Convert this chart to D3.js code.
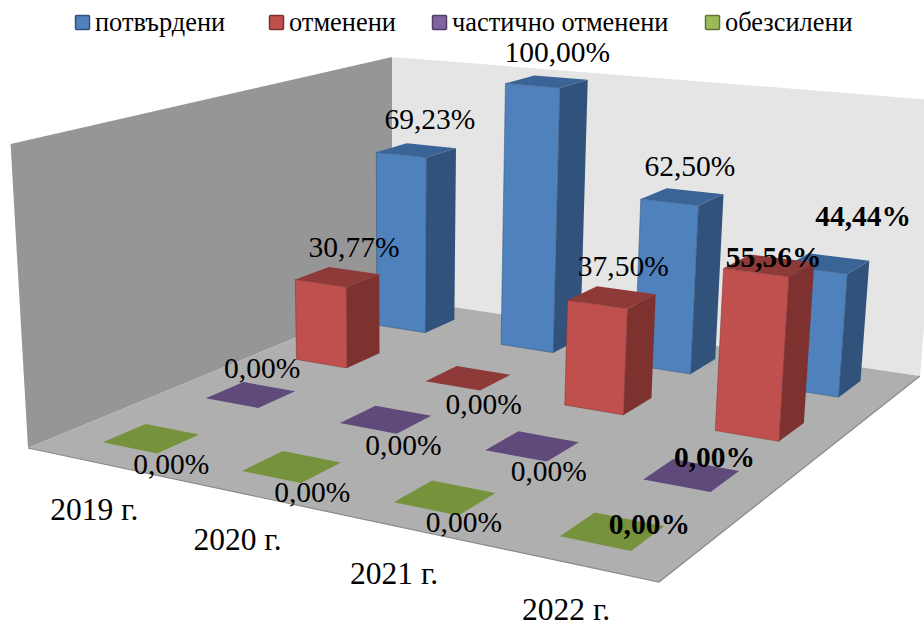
<!DOCTYPE html>
<html>
<head>
<meta charset="utf-8">
<script src="https://cdn.jsdelivr.net/npm/d3@7"></script>
<style>
  body { margin: 0; background: #fff; }
  text { font-family: "Liberation Serif", serif; fill: #000; }
</style>
</head>
<body>
<svg id="chart" width="924" height="621"></svg>
<script>
// Values
const categories = ["2019 г.", "2020 г.", "2021 г.", "2022 г."];
const seriesNames = ["потвърдени", "отменени", "частично отменени", "обезсилени"];
const confirmed = [69.23, 100, 62.5, 44.44];
const cancelled = [30.77, 0, 37.5, 55.56];
const partlyCancelled = [0, 0, 0, 0];
const annulled = [0, 0, 0, 0];
const seriesValues = [confirmed, cancelled, partlyCancelled, annulled];

// Face colours per series
const frontColors = ["#4f81bd", "#c0504d", "#8064a2", "#9bbb59"];
const sideColors = ["#31527a", "#7d3230", "#4f3e66", "#617538"];
const topColors = ["#3a6496", "#8e3a38", "#604a7b", "#76923c"];

// Hand placed data labels, offset from the centre of each bar top
const labelOffsets = [
  [[13.5, -31], [10.5, -29], [7.5, -30], [35.5, -47]],
  [[16.5, -30], [15.5, 26], [11.5, -31], [4.5, -8]],
  [[11.5, -26], [17.5, 26], [16.5, 25], [23, -18]],
  [[20, 26], [20.5, 26], [19, 25], [37, -7]]
];
const legendX = [75, 269, 432, 705];

// Corners of the floor and the top of the back edge, in screen pixels
const floorLeft = [28, 448], floorFront = [659, 582], floorRight = [920, 376], floorBack = [392, 298];
const backTopY = 57;
const verticalVanish = [392, 6800];

// Square to quad homography for the floor
function floorMatrix(p0, p1, p2, p3) {
  const dx1 = p1[0] - p2[0], dx2 = p3[0] - p2[0], sx = p0[0] - p1[0] + p2[0] - p3[0];
  const dy1 = p1[1] - p2[1], dy2 = p3[1] - p2[1], sy = p0[1] - p1[1] + p2[1] - p3[1];
  const det = dx1 * dy2 - dx2 * dy1;
  const g = (sx * dy2 - dx2 * sy) / det;
  const h = (dx1 * sy - sx * dy1) / det;
  return {
    a: p1[0] - p0[0] + g * p1[0], b: p3[0] - p0[0] + h * p3[0], c: p0[0],
    d: p1[1] - p0[1] + g * p1[1], e: p3[1] - p0[1] + h * p3[1], f: p0[1],
    g, h
  };
}

const m = floorMatrix(floorLeft, floorFront, floorRight, floorBack);
const k = (backTopY * (m.h + 1) - (m.e + m.f)) / (verticalVanish[1] - backTopY);

// u runs along the categories, v into the depth, t up the value axis
function project(u, v, t) {
  const w = m.g * u + m.h * v + 1 + t * k;
  return [
    (m.a * u + m.b * v + m.c + t * k * verticalVanish[0]) / w,
    (m.d * u + m.e * v + m.f + t * k * verticalVanish[1]) / w
  ];
}

const uScale = d3.scaleBand().domain(categories).range([0.002, 1.002]).paddingInner(0.6).paddingOuter(0.3);
const vScale = d3.scaleBand().domain(seriesNames).range([1, 0]).paddingInner(0.6).paddingOuter(0.3);
const tScale = d3.scaleLinear().domain([0, 100]).range([0, 1]);

const svg = d3.select("#chart");
const line = d3.line();
const closed = pts => line(pts) + "Z";

// Walls and floor
svg.append("path")
    .attr("d", closed([[0, 0, 0], [0, 1, 0], [0, 1, 1], [0, 0, 1]].map(p => project(...p))))
    .attr("fill", "#969696");
svg.append("path")
    .attr("d", closed([[0, 1, 0], [1, 1, 0], [1, 1, 1], [0, 1, 1]].map(p => project(...p))))
    .attr("fill", "#e5e5e5");
svg.append("path")
    .attr("d", closed([[0, 0, 0], [1, 0, 0], [1, 1, 0], [0, 1, 0]].map(p => project(...p))))
    .attr("fill", "#afafaf");
svg.append("path")
    .attr("d", line([[0, 0, 0], [1, 0, 0], [1, 1, 0]].map(p => project(...p))))
    .attr("fill", "none")
    .attr("stroke", "#8a8a8a")
    .attr("stroke-width", 1.2);

// One record per bar, back series first so nearer bars paint over
const bars = [];
seriesNames.forEach((name, s) => {
  categories.forEach((cat, c) => {
    bars.push({ s, c, cat, name, value: seriesValues[s][c] });
  });
});

const barG = svg.selectAll("g.bar")
    .data(bars)
  .join("g")
    .attr("class", "bar");

function corners(d) {
  const u0 = uScale(d.cat), u1 = u0 + uScale.bandwidth();
  const v1 = vScale(d.name), v0 = v1 + vScale.bandwidth();
  return { u0, u1, v0: Math.min(v0, v1), v1: Math.max(v0, v1), t: tScale(d.value) };
}

barG.filter(d => d.value > 0).append("path")
    .attr("d", d => {
      const q = corners(d);
      return closed([[q.u0, q.v0, 0], [q.u1, q.v0, 0], [q.u1, q.v0, q.t], [q.u0, q.v0, q.t]].map(p => project(...p)));
    })
    .attr("fill", d => frontColors[d.s])
    .attr("stroke", d => sideColors[d.s])
    .attr("stroke-opacity", 0.5)
    .attr("stroke-width", 1);

barG.filter(d => d.value > 0).append("path")
    .attr("d", d => {
      const q = corners(d);
      return closed([[q.u1, q.v0, 0], [q.u1, q.v1, 0], [q.u1, q.v1, q.t], [q.u1, q.v0, q.t]].map(p => project(...p)));
    })
    .attr("fill", d => sideColors[d.s]);

barG.append("path")
    .attr("d", d => {
      const q = corners(d);
      return closed([[q.u0, q.v0, q.t], [q.u1, q.v0, q.t], [q.u1, q.v1, q.t], [q.u0, q.v1, q.t]].map(p => project(...p)));
    })
    .attr("fill", d => topColors[d.s]);

// Data labels, the last category is bold in the source
const percent = v => v.toFixed(2).replace(".", ",") + "%";
svg.selectAll("text.value")
    .data(bars)
  .join("text")
    .attr("class", "value")
    .attr("text-anchor", "middle")
    .attr("dy", "0.33em")
    .attr("font-size", 29.5)
    .attr("font-weight", d => d.c === 3 ? "bold" : "normal")
    .attr("transform", d => {
      const q = corners(d);
      const p = project((q.u0 + q.u1) / 2, (q.v0 + q.v1) / 2, q.t);
      const o = labelOffsets[d.s][d.c];
      return `translate(${p[0] + o[0]},${p[1] + o[1]})`;
    })
    .text(d => percent(d.value));

// Category labels below the front edge
svg.selectAll("text.category")
    .data(categories)
  .join("text")
    .attr("class", "category")
    .attr("text-anchor", "middle")
    .attr("dy", "0.33em")
    .attr("font-size", 31.5)
    .attr("transform", d => {
      const p = project(uScale(d) + uScale.bandwidth() / 2, 0, 0);
      return `translate(${p[0] - 2},${p[1] + 47})`;
    })
    .text(d => d);

// Legend
const legend = svg.selectAll("g.legend")
    .data(seriesNames)
  .join("g")
    .attr("class", "legend")
    .attr("transform", (d, i) => `translate(${legendX[i]},15)`);

legend.append("rect")
    .attr("x", 0.5)
    .attr("y", 0.5)
    .attr("width", 14)
    .attr("height", 14)
    .attr("rx", 1)
    .attr("fill", (d, i) => frontColors[i])
    .attr("stroke", (d, i) => sideColors[i])
    .attr("stroke-width", 1.5);

legend.append("text")
    .attr("x", 20)
    .attr("y", 16)
    .attr("font-size", 26.4)
    .text(d => d);
</script>
</body>
</html>
